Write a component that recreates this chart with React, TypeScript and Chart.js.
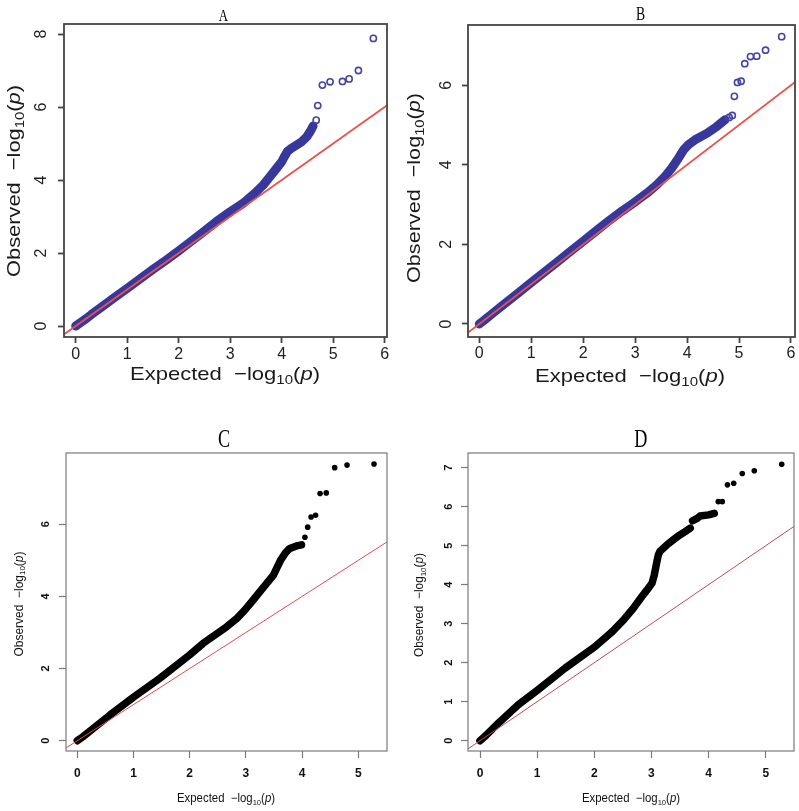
import React, { useEffect, useRef } from "react";
import { Chart, registerables } from "chart.js";

Chart.register(...registerables);

// ---------------- data ----------------
const PANEL_TITLES = ["A", "B", "C", "D"];
const X_TITLE_WORD = "Expected";
const Y_TITLE_WORD = "Observed";

const X_TICKS_AB = [0, 1, 2, 3, 4, 5, 6];
const X_TICKS_CD = [0, 1, 2, 3, 4, 5];
const A_Y_TICKS = [0, 2, 4, 6, 8];
const B_Y_TICKS = [0, 2, 4, 6];
const C_Y_TICKS = [0, 2, 4, 6];
const D_Y_TICKS = [0, 1, 2, 3, 4, 5, 6, 7];

// expected = observed reference line (end values)
const DIAGONAL = [-1, 9];

const A_EXPECTED = [0, 0.1, 0.2, 0.3, 0.5, 0.75, 1.0, 1.25, 1.5, 1.75, 2.0, 2.25, 2.5, 2.77, 3.0, 3.25, 3.48, 3.64, 3.77, 3.9, 4.0, 4.06, 4.11, 4.19, 4.29, 4.39, 4.49, 4.55, 4.61];
const A_OBSERVED = [0, 0.1, 0.2, 0.31, 0.52, 0.78, 1.03, 1.29, 1.55, 1.8, 2.06, 2.33, 2.6, 2.9, 3.13, 3.36, 3.64, 3.86, 4.09, 4.32, 4.5, 4.66, 4.78, 4.87, 4.96, 5.05, 5.19, 5.32, 5.48];
const A_TAIL_EXPECTED = [4.67, 4.7, 4.79, 4.94, 5.18, 5.31, 5.49, 5.78];
const A_TAIL_OBSERVED = [5.64, 6.04, 6.6, 6.69, 6.7, 6.77, 7.0, 7.88];

const B_EXPECTED = [0, 0.1, 0.25, 0.5, 0.75, 1.0, 1.25, 1.5, 1.75, 2.0, 2.25, 2.5, 2.75, 2.96, 3.22, 3.41, 3.57, 3.7, 3.83, 3.93, 4.02, 4.18, 4.38, 4.57, 4.73];
const B_OBSERVED = [0, 0.1, 0.26, 0.52, 0.78, 1.04, 1.3, 1.56, 1.82, 2.08, 2.34, 2.6, 2.84, 3.03, 3.28, 3.49, 3.7, 3.91, 4.16, 4.37, 4.5, 4.65, 4.79, 4.96, 5.13];
const B_TAIL_EXPECTED = [4.81, 4.87, 4.91, 4.97, 5.04, 5.11, 5.22, 5.34, 5.51, 5.82];
const B_TAIL_OBSERVED = [5.19, 5.24, 5.72, 6.07, 6.1, 6.54, 6.72, 6.73, 6.88, 7.22];

const C_EXPECTED = [0, 0.1, 0.285, 0.58, 1.01, 1.47, 2.0, 2.24, 2.45, 2.66, 2.84, 2.98, 3.13, 3.25, 3.37, 3.49, 3.56, 3.62, 3.7, 3.78, 3.9, 3.99];
const C_OBSERVED = [0, 0.11, 0.34, 0.71, 1.22, 1.73, 2.38, 2.7, 2.93, 3.16, 3.39, 3.62, 3.9, 4.13, 4.36, 4.59, 4.82, 5.01, 5.2, 5.33, 5.4, 5.43];
const C_TAIL_EXPECTED = [4.05, 4.1, 4.16, 4.24, 4.32, 4.43, 4.58, 4.8, 5.28];
const C_TAIL_OBSERVED = [5.64, 5.92, 6.2, 6.25, 6.85, 6.87, 7.57, 7.64, 7.67];

const D_EXPECTED = [0, 0.1, 0.32, 0.67, 1.01, 1.49, 2.01, 2.31, 2.51, 2.68, 2.83, 2.92, 3.01, 3.05, 3.09, 3.12, 3.15, 3.27, 3.39, 3.47, 3.59, 3.68];
const D_OBSERVED = [0, 0.13, 0.45, 0.92, 1.3, 1.86, 2.41, 2.79, 3.09, 3.39, 3.69, 3.86, 4.04, 4.25, 4.55, 4.76, 4.86, 5.02, 5.16, 5.25, 5.36, 5.45];
const D_PLATEAU_EXPECTED = [3.72, 3.8, 3.85, 4.0, 4.1];
const D_PLATEAU_OBSERVED = [5.64, 5.7, 5.76, 5.79, 5.83];
const D_TAIL_EXPECTED = [4.17, 4.24, 4.33, 4.44, 4.59, 4.8, 5.28];
const D_TAIL_OBSERVED = [6.13, 6.13, 6.56, 6.6, 6.85, 6.92, 7.09];

// ---------------- styles / layout ----------------
const SANS = '"Liberation Sans", Arial, sans-serif';
const SERIF = '"Liberation Serif", "Times New Roman", serif';

type Theme = {
  band: string; bandWidth: number; point: string; filled: boolean; pointRadius: number; pointBorder: number;
  red: string; redWidth: number; box: string; boxWidth: number; tickLen: number;
  xTickFont: any; yTickFont: any; tickColor: string; axisTitleSize: number; textColor: string;
};

const THEME_AB: Theme = {
  band: "#37379c", bandWidth: 9, point: "#4444a8", filled: false, pointRadius: 3.1, pointBorder: 1.6,
  red: "#e8524a", redWidth: 1.8, box: "#444444", boxWidth: 1.8, tickLen: 6,
  xTickFont: { family: SANS, size: 16 }, yTickFont: { family: SANS, size: 16 }, tickColor: "#222222",
  axisTitleSize: 19, textColor: "#1a1a1a",
};
const THEME_CD: Theme = {
  band: "#000000", bandWidth: 7.5, point: "#000000", filled: true, pointRadius: 2.8, pointBorder: 0,
  red: "#e04848", redWidth: 1, box: "#7a7a7a", boxWidth: 1.2, tickLen: 7,
  xTickFont: { family: SANS, size: 12, weight: "bold" }, yTickFont: { family: SANS, size: 11, weight: "bold" },
  tickColor: "#111111", axisTitleSize: 12, textColor: "#111111",
};

type Panel = {
  title: string;
  canvas: { x: number; y: number; w: number; h: number };
  area: { l: number; t: number; r: number; b: number };
  xRange: number[]; yRange: number[]; xTicks: number[]; yTicks: number[];
  bands: number[][][]; tail: number[][]; theme: Theme; redColor?: string;
  xPad: number; yPad: number;
  titleStyle: { cx: number; base: number; size: number; sx: number };
  xTitle: { cx: number; base: number; len: number };
  yTitle: { base: number; cy: number; len: number };
};

const PANELS: Panel[] = [
  {
    title: PANEL_TITLES[0],
    canvas: { x: 0, y: 0, w: 400, h: 400 },
    area: { l: 64, t: 24, r: 387, b: 337 },
    xRange: [-0.227, 6.045], yRange: [-0.301, 8.274], xTicks: X_TICKS_AB, yTicks: A_Y_TICKS,
    bands: [[A_EXPECTED, A_OBSERVED]], tail: [A_TAIL_EXPECTED, A_TAIL_OBSERVED], theme: THEME_AB,
    xPad: 1.5, yPad: 11.6,
    titleStyle: { cx: 223.3, base: 20.7, size: 16, sx: 0.8 },
    xTitle: { cx: 225, base: 380, len: 190 },
    yTitle: { base: 20, cy: 181, len: 192 },
  },
  {
    title: PANEL_TITLES[1],
    canvas: { x: 400, y: 0, w: 399, h: 400 },
    area: { l: 468, t: 25, r: 795, b: 337 },
    xRange: [-0.2175, 6.077], yRange: [-0.327, 7.513], xTicks: X_TICKS_AB, yTicks: B_Y_TICKS,
    bands: [[B_EXPECTED, B_OBSERVED]], tail: [B_TAIL_EXPECTED, B_TAIL_OBSERVED], theme: THEME_AB,
    xPad: 0.5, yPad: 10.6,
    titleStyle: { cx: 640.5, base: 20, size: 19, sx: 0.72 },
    xTitle: { cx: 630, base: 381.7, len: 190 },
    yTitle: { base: 420, cy: 188, len: 190 },
  },
  {
    title: PANEL_TITLES[2],
    canvas: { x: 0, y: 400, w: 400, h: 411 },
    area: { l: 66, t: 453, r: 387, b: 751 },
    xRange: [-0.201, 5.511], yRange: [-0.286, 7.976], xTicks: X_TICKS_CD, yTicks: C_Y_TICKS,
    bands: [[C_EXPECTED, C_OBSERVED]], tail: [C_TAIL_EXPECTED, C_TAIL_OBSERVED], theme: THEME_CD,
    redColor: "#e44a4a",
    xPad: 8.6, yPad: 9.6,
    titleStyle: { cx: 224, base: 446.7, size: 26, sx: 0.7 },
    xTitle: { cx: 226, base: 802.3, len: 98 },
    yTitle: { base: 22.5, cy: 604, len: 105 },
  },
  {
    title: PANEL_TITLES[3],
    canvas: { x: 400, y: 400, w: 399, h: 411 },
    area: { l: 468, t: 453, r: 794, b: 751 },
    xRange: [-0.21, 5.495], yRange: [-0.264, 7.377], xTicks: X_TICKS_CD, yTicks: D_Y_TICKS,
    bands: [[D_EXPECTED, D_OBSERVED], [D_PLATEAU_EXPECTED, D_PLATEAU_OBSERVED]],
    tail: [D_TAIL_EXPECTED, D_TAIL_OBSERVED], theme: THEME_CD,
    redColor: "#c04c4c",
    xPad: 8.1, yPad: 9.1,
    titleStyle: { cx: 640.8, base: 446.7, size: 26, sx: 0.7 },
    xTitle: { cx: 631, base: 802, len: 98 },
    yTitle: { base: 423, cy: 605, len: 104 },
  },
];

const pts = (xs: number[], ys: number[]) => xs.map((x, i) => ({ x, y: ys[i] }));

function drawMathTitle(
  ctx: CanvasRenderingContext2D, word: string, px: number, py: number,
  vertical: boolean, size: number, color: string, targetLen: number
) {
  const main = `${size}px ${SANS}`;
  const sub = `${Math.round(size * 0.68)}px ${SANS}`;
  const ital = `italic ${size}px ${SANS}`;
  const parts = [
    { t: word + "  \u2212log", f: main, dy: 0 },
    { t: "10", f: sub, dy: size * 0.22 },
    { t: "(", f: main, dy: 0 },
    { t: "p", f: ital, dy: 0 },
    { t: ")", f: main, dy: 0 },
  ];
  let total = 0;
  const widths = parts.map((p) => {
    ctx.font = p.f;
    const w = ctx.measureText(p.t).width;
    total += w;
    return w;
  });
  ctx.save();
  ctx.translate(px, py);
  if (vertical) ctx.rotate(-Math.PI / 2);
  ctx.scale(targetLen / total, 1);
  ctx.fillStyle = color;
  ctx.textAlign = "left";
  ctx.textBaseline = "alphabetic";
  let x = -total / 2;
  parts.forEach((p, i) => {
    ctx.font = p.f;
    ctx.fillText(p.t, x, p.dy);
    x += widths[i];
  });
  ctx.restore();
}

function QQPanel({ panel }: { panel: Panel }) {
  const ref = useRef<HTMLCanvasElement>(null);
  useEffect(() => {
    const canvas = ref.current;
    if (!canvas) return;
    const p = panel;
    const th = p.theme;
    const c = p.canvas;
    const yAxisWidth = p.area.l - c.x;
    const xAxisHeight = c.y + c.h - p.area.b;

    const datasets: any[] = [];
    datasets.push({
      label: "diagonal",
      data: pts(DIAGONAL, DIAGONAL),
      showLine: true,
      borderColor: p.redColor || th.red,
      borderWidth: th.redWidth,
      pointRadius: 0,
      clip: 0,
      order: 0,
    });
    p.bands.forEach(([xs, ys], i) => {
      datasets.push({
        label: "observed" + i,
        data: pts(xs, ys),
        showLine: true,
        borderColor: th.band,
        borderWidth: th.bandWidth,
        borderCapStyle: "round",
        borderJoinStyle: "round",
        pointRadius: 0,
        order: 2,
      });
    });
    datasets.push({
      label: "tail",
      data: pts(p.tail[0], p.tail[1]),
      showLine: false,
      pointRadius: th.pointRadius,
      pointBorderWidth: th.pointBorder,
      pointBorderColor: th.point,
      pointBackgroundColor: th.filled ? th.point : "rgba(0,0,0,0)",
      order: 1,
    });

    const decor = {
      id: "decor",
      afterDraw(chart: any) {
        const ctx: CanvasRenderingContext2D = chart.ctx;
        const a = chart.chartArea;
        ctx.save();
        ctx.strokeStyle = th.box;
        ctx.lineWidth = th.boxWidth;
        ctx.strokeRect(a.left, a.top, a.right - a.left, a.bottom - a.top);
        const ts = p.titleStyle;
        ctx.translate(ts.cx - c.x, ts.base - c.y);
        ctx.scale(ts.sx, 1);
        ctx.font = `${ts.size}px ${SERIF}`;
        ctx.fillStyle = "#000";
        ctx.textAlign = "center";
        ctx.textBaseline = "alphabetic";
        ctx.fillText(p.title, 0, 0);
        ctx.restore();
        drawMathTitle(ctx, X_TITLE_WORD, p.xTitle.cx - c.x, p.xTitle.base - c.y, false, th.axisTitleSize, th.textColor, p.xTitle.len);
        drawMathTitle(ctx, Y_TITLE_WORD, p.yTitle.base - c.x, p.yTitle.cy - c.y, true, th.axisTitleSize, th.textColor, p.yTitle.len);
      },
    };

    const chart = new Chart(canvas, {
      type: "scatter",
      data: { datasets },
      options: {
        responsive: false,
        animation: false,
        devicePixelRatio: 1,
        events: [],
        layout: {
          autoPadding: false,
          padding: { left: 0, top: p.area.t - c.y, right: c.x + c.w - p.area.r, bottom: 0 },
        },
        plugins: { legend: { display: false }, tooltip: { enabled: false }, title: { display: false } },
        scales: {
          x: {
            type: "linear",
            position: "bottom",
            min: p.xRange[0],
            max: p.xRange[1],
            afterBuildTicks: (s: any) => { s.ticks = p.xTicks.map((v) => ({ value: v })); },
            afterFit: (s: any) => { s.height = xAxisHeight; s.paddingLeft = 0; s.paddingRight = 0; },
            border: { display: false },
            grid: { display: true, drawOnChartArea: false, drawTicks: true, tickLength: th.tickLen, tickWidth: th.boxWidth, tickColor: th.box, color: th.box },
            ticks: { font: th.xTickFont, color: th.tickColor, padding: p.xPad, maxRotation: 0, minRotation: 0, autoSkip: false, callback: (v: any) => String(v) },
          },
          y: {
            type: "linear",
            position: "left",
            min: p.yRange[0],
            max: p.yRange[1],
            afterBuildTicks: (s: any) => { s.ticks = p.yTicks.map((v) => ({ value: v })); },
            afterFit: (s: any) => { s.width = yAxisWidth; s.paddingTop = 0; s.paddingBottom = 0; },
            border: { display: false },
            grid: { display: true, drawOnChartArea: false, drawTicks: true, tickLength: th.tickLen, tickWidth: th.boxWidth, tickColor: th.box, color: th.box },
            ticks: { font: th.yTickFont, color: th.tickColor, padding: p.yPad, minRotation: 90, maxRotation: 90, crossAlign: "center", autoSkip: false, callback: (v: any) => String(v) },
          },
        },
      } as any,
      plugins: [decor],
    });
    return () => chart.destroy();
  }, [panel]);

  const c = panel.canvas;
  return (
    <canvas
      ref={ref}
      width={c.w}
      height={c.h}
      style={{ position: "absolute", left: c.x, top: c.y, width: c.w, height: c.h, display: "block" }}
    />
  );
}

export default function App() {
  return (
    <div style={{ position: "absolute", left: 0, top: 0, width: 799, height: 811, background: "#ffffff", overflow: "hidden" }}>
      {PANELS.map((p) => (
        <QQPanel key={p.title} panel={p} />
      ))}
    </div>
  );
}
